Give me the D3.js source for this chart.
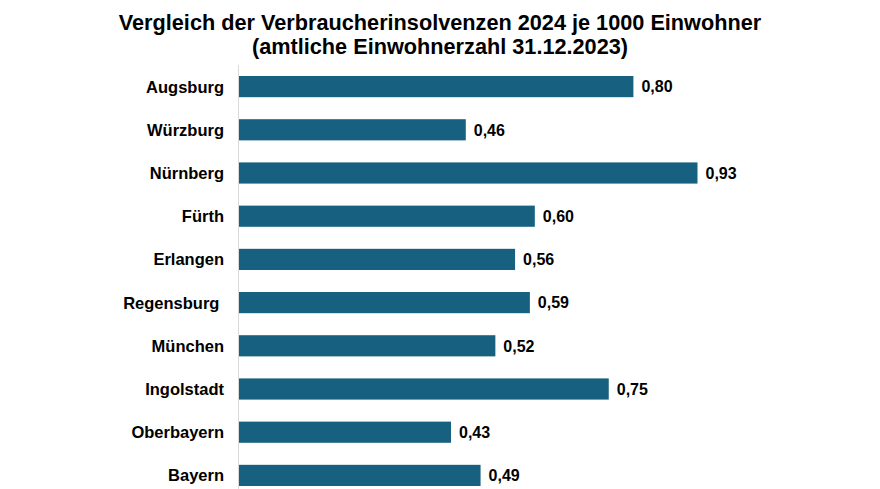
<!DOCTYPE html>
<html><head><meta charset="utf-8">
<script src="https://cdn.jsdelivr.net/npm/d3@7"></script>
<style>
html,body{margin:0;padding:0;background:#fff;}
svg{display:block;font-family:"Liberation Sans",Arial,sans-serif;}
</style></head>
<body><svg id="c" width="880" height="489"></svg>
<script>
const titleLines = ["Vergleich der Verbraucherinsolvenzen 2024 je 1000 Einwohner", "(amtliche Einwohnerzahl 31.12.2023)"];
const categories = ["Augsburg","Würzburg","Nürnberg","Fürth","Erlangen","Regensburg ","München","Ingolstadt","Oberbayern","Bayern"];
const values = [0.80,0.46,0.93,0.60,0.56,0.59,0.52,0.75,0.43,0.49];

const svg = d3.select("#c");
const x0 = 239;
const x = d3.scaleLinear().domain([0, 1]).range([x0, x0 + 493]);
const y = d3.scaleBand().domain(categories).range([65, 497]).paddingInner(0.51).paddingOuter(0.255);

svg.selectAll("text.title").data(titleLines).join("text")
  .attr("class","title")
  .attr("x", 440).attr("y", (d,i)=> 30 + i*24)
  .attr("text-anchor","middle")
  .attr("font-size", 21.7).attr("font-weight","bold").attr("fill","#000")
  .text(d=>d);

svg.append("line").attr("x1", x0 - 0.5).attr("x2", x0 - 0.5).attr("y1", 65).attr("y2", 489)
  .attr("stroke","#d9d9d9").attr("stroke-width",1);

svg.selectAll("rect.bar").data(values).join("rect")
  .attr("class","bar")
  .attr("x", x(0)).attr("y", (d,i)=>y(categories[i]))
  .attr("width", d=>x(d)-x(0)).attr("height", y.bandwidth())
  .attr("fill","#17607f");

svg.selectAll("text.cat").data(categories).join("text")
  .attr("class","cat")
  .attr("x", 224).attr("y", d=>y(d)+y.bandwidth()/2)
  .attr("dy","0.36em")
  .attr("text-anchor","end")
  .style("white-space","pre")
  .attr("font-size", 16.5).attr("font-weight","bold").attr("fill","#000")
  .text(d=>d);

svg.selectAll("text.val").data(values).join("text")
  .attr("class","val")
  .attr("x", d=>x(d)+8).attr("y", (d,i)=>y(categories[i])+y.bandwidth()/2)
  .attr("dy","0.36em")
  .attr("font-size", 16).attr("font-weight","bold").attr("fill","#000")
  .text(d=>d3.format(".2f")(d).replace(".",","));
</script></body></html>
